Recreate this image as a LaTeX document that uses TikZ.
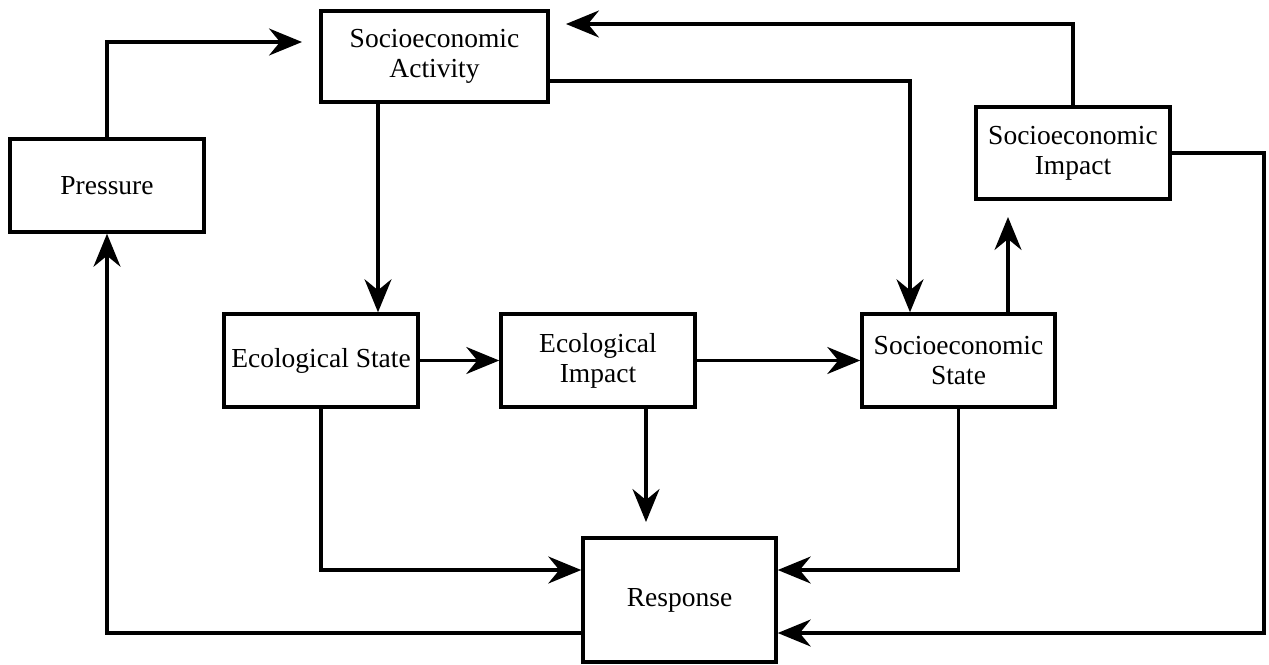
\documentclass[tikz,border=0pt]{standalone}
\usepackage{fontspec}
\setmainfont{Liberation Serif}
\usetikzlibrary{arrows.meta}
\begin{document}
\begin{tikzpicture}[x=1pt,y=-1pt,
  box/.style={draw, line width=3.5pt, fill=white, align=center, inner sep=0pt,
    font=\fontsize{27.5}{30}\selectfont},
  arr/.style={line width=3.2pt, -{Stealth[length=33pt,width=27pt,inset=11pt]}},
  ln/.style={line width=3.2pt}]
\useasboundingbox (0,0) rectangle (1269,664);
\node[box, minimum width=227pt, minimum height=91pt] (SA) at (434.5,56.5) {Socioeconomic\\Activity};
\node[box, minimum width=194pt, minimum height=93pt] (P) at (107,185.5) {Pressure};
\node[box, minimum width=194pt, minimum height=92pt] (SI) at (1073,153) {Socioeconomic\\Impact};
\node[box, minimum width=194pt, minimum height=93pt] (ES) at (321,360.5) {Ecological State};
\node[box, minimum width=194pt, minimum height=93pt] (EI) at (598,360.5) {Ecological\\Impact};
\node[box, minimum width=193pt, minimum height=93pt] (SS) at (958.5,360.5) {Socioeconomic\\State};
\node[box, minimum width=193pt, minimum height=124pt] (R) at (679.5,600) {Response};
\coordinate (pEnd) at (302,42);
\coordinate (siEnd) at (566,24);
\coordinate (ssEnd) at (1008,217);
\coordinate (eiEnd) at (646,522);
\coordinate (rc) at (1264,633);
\draw[arr] (P.north) |- (pEnd);
\draw[arr] (SA.south -| 378,0) -- (ES.north -| 378,0);
\draw[arr] (SA.east |- 0,81) -| (910,0 |- SS.north);
\draw[arr] (SI.north) |- (siEnd);
\draw[arr] (SS.north -| 1008,0) -- (ssEnd);
\draw[arr] (ES.east) -- (EI.west);
\draw[arr] (EI.east) -- (SS.west);
\draw[arr] (EI.south -| 646,0) -- (eiEnd);
\draw[arr] (ES.south) |- (R.west |- 0,570);
\draw[arr] (SS.south) |- (R.east |- 0,570);
\draw[arr] (SI.east) -| (rc) -- (R.east |- rc);
\draw[arr] (R.west |- rc) -| (P.south);
\end{tikzpicture}
\end{document}
